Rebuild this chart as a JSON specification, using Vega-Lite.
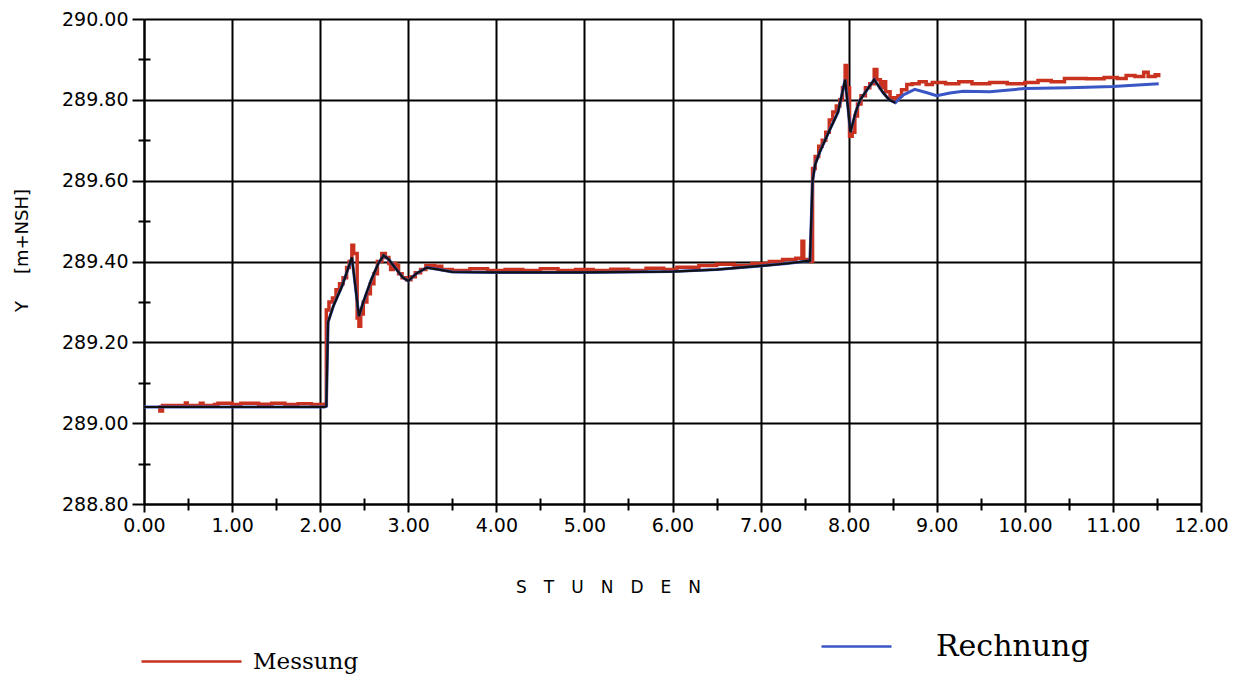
{
  "$schema": "https://vega.github.io/schema/vega-lite/v6.json",
  "width": 1057,
  "height": 485,
  "autosize": {"type": "none"},
  "padding": {"left": 144, "top": 19, "right": 36, "bottom": 180},
  "background": "white",
  "config": {
    "view": {"stroke": null},
    "axis": {"labelFont": "DejaVu Sans", "titleFont": "DejaVu Sans", "labelColor": "black", "titleColor": "black", "titleFontWeight": "normal"}
  },
  "datasets": {
    "rechnung": [
      {"t": 0.00, "y": 289.040}, {"t": 2.05, "y": 289.040}, {"t": 2.07, "y": 289.042},
      {"t": 2.09, "y": 289.250}, {"t": 2.15, "y": 289.290}, {"t": 2.25, "y": 289.340},
      {"t": 2.36, "y": 289.410}, {"t": 2.44, "y": 289.265}, {"t": 2.49, "y": 289.300},
      {"t": 2.58, "y": 289.355}, {"t": 2.66, "y": 289.395}, {"t": 2.72, "y": 289.415},
      {"t": 2.78, "y": 289.405}, {"t": 2.85, "y": 289.385}, {"t": 2.94, "y": 289.360},
      {"t": 3.00, "y": 289.352}, {"t": 3.09, "y": 289.370}, {"t": 3.21, "y": 289.385},
      {"t": 3.35, "y": 289.380}, {"t": 3.50, "y": 289.374}, {"t": 4.00, "y": 289.373},
      {"t": 5.00, "y": 289.373}, {"t": 6.00, "y": 289.375}, {"t": 6.50, "y": 289.380},
      {"t": 7.00, "y": 289.389}, {"t": 7.30, "y": 289.395}, {"t": 7.56, "y": 289.402},
      {"t": 7.59, "y": 289.600}, {"t": 7.62, "y": 289.640}, {"t": 7.67, "y": 289.670},
      {"t": 7.79, "y": 289.728}, {"t": 7.88, "y": 289.770}, {"t": 7.96, "y": 289.850},
      {"t": 8.02, "y": 289.720}, {"t": 8.08, "y": 289.770}, {"t": 8.13, "y": 289.800},
      {"t": 8.20, "y": 289.822}, {"t": 8.29, "y": 289.850}, {"t": 8.39, "y": 289.818},
      {"t": 8.46, "y": 289.800}, {"t": 8.53, "y": 289.793}, {"t": 8.62, "y": 289.812},
      {"t": 8.75, "y": 289.826}, {"t": 8.88, "y": 289.818}, {"t": 9.00, "y": 289.810},
      {"t": 9.15, "y": 289.817}, {"t": 9.30, "y": 289.821}, {"t": 9.60, "y": 289.820},
      {"t": 10.00, "y": 289.828}, {"t": 10.50, "y": 289.830}, {"t": 11.00, "y": 289.833},
      {"t": 11.52, "y": 289.840}
    ],
    "messung": [
      {"t": 0.16, "y": 289.040}, {"t": 0.18, "y": 289.030}, {"t": 0.21, "y": 289.044},
      {"t": 0.45, "y": 289.044}, {"t": 0.47, "y": 289.050}, {"t": 0.49, "y": 289.044},
      {"t": 0.62, "y": 289.044}, {"t": 0.64, "y": 289.049}, {"t": 0.67, "y": 289.044},
      {"t": 0.80, "y": 289.046}, {"t": 0.84, "y": 289.049}, {"t": 1.00, "y": 289.046},
      {"t": 1.10, "y": 289.049}, {"t": 1.30, "y": 289.047}, {"t": 1.45, "y": 289.049},
      {"t": 1.60, "y": 289.046}, {"t": 1.75, "y": 289.048}, {"t": 1.90, "y": 289.046},
      {"t": 2.05, "y": 289.047}, {"t": 2.07, "y": 289.280}, {"t": 2.10, "y": 289.300},
      {"t": 2.14, "y": 289.310}, {"t": 2.18, "y": 289.330}, {"t": 2.22, "y": 289.345},
      {"t": 2.26, "y": 289.360}, {"t": 2.30, "y": 289.385}, {"t": 2.33, "y": 289.400},
      {"t": 2.36, "y": 289.440}, {"t": 2.38, "y": 289.420}, {"t": 2.42, "y": 289.260},
      {"t": 2.44, "y": 289.240}, {"t": 2.46, "y": 289.270}, {"t": 2.49, "y": 289.300},
      {"t": 2.53, "y": 289.320}, {"t": 2.57, "y": 289.345}, {"t": 2.61, "y": 289.370},
      {"t": 2.65, "y": 289.400}, {"t": 2.70, "y": 289.420}, {"t": 2.74, "y": 289.410},
      {"t": 2.78, "y": 289.395}, {"t": 2.80, "y": 289.380}, {"t": 2.83, "y": 289.395},
      {"t": 2.86, "y": 289.390}, {"t": 2.89, "y": 289.370}, {"t": 2.93, "y": 289.360},
      {"t": 2.98, "y": 289.355}, {"t": 3.03, "y": 289.362}, {"t": 3.08, "y": 289.372},
      {"t": 3.14, "y": 289.380}, {"t": 3.20, "y": 289.390}, {"t": 3.30, "y": 289.388},
      {"t": 3.38, "y": 289.380}, {"t": 3.50, "y": 289.378}, {"t": 3.70, "y": 289.382},
      {"t": 3.90, "y": 289.378}, {"t": 4.10, "y": 289.380}, {"t": 4.30, "y": 289.378},
      {"t": 4.50, "y": 289.382}, {"t": 4.70, "y": 289.378}, {"t": 4.90, "y": 289.380},
      {"t": 5.10, "y": 289.378}, {"t": 5.30, "y": 289.381}, {"t": 5.50, "y": 289.378},
      {"t": 5.70, "y": 289.383}, {"t": 5.90, "y": 289.380}, {"t": 6.05, "y": 289.386},
      {"t": 6.30, "y": 289.390}, {"t": 6.50, "y": 289.393}, {"t": 6.70, "y": 289.390},
      {"t": 6.90, "y": 289.395}, {"t": 7.10, "y": 289.400}, {"t": 7.25, "y": 289.405},
      {"t": 7.40, "y": 289.408}, {"t": 7.47, "y": 289.450}, {"t": 7.49, "y": 289.405},
      {"t": 7.57, "y": 289.400}, {"t": 7.59, "y": 289.630}, {"t": 7.62, "y": 289.660},
      {"t": 7.66, "y": 289.685}, {"t": 7.70, "y": 289.700}, {"t": 7.74, "y": 289.720},
      {"t": 7.78, "y": 289.750}, {"t": 7.82, "y": 289.770}, {"t": 7.86, "y": 289.785},
      {"t": 7.90, "y": 289.800}, {"t": 7.93, "y": 289.830}, {"t": 7.96, "y": 289.885},
      {"t": 7.98, "y": 289.830}, {"t": 8.01, "y": 289.710}, {"t": 8.04, "y": 289.720},
      {"t": 8.07, "y": 289.760}, {"t": 8.10, "y": 289.790}, {"t": 8.14, "y": 289.810},
      {"t": 8.19, "y": 289.830}, {"t": 8.24, "y": 289.840}, {"t": 8.29, "y": 289.875},
      {"t": 8.32, "y": 289.850}, {"t": 8.36, "y": 289.830}, {"t": 8.39, "y": 289.845},
      {"t": 8.42, "y": 289.820}, {"t": 8.47, "y": 289.805}, {"t": 8.52, "y": 289.800},
      {"t": 8.56, "y": 289.810}, {"t": 8.60, "y": 289.825}, {"t": 8.66, "y": 289.838},
      {"t": 8.72, "y": 289.840}, {"t": 8.80, "y": 289.845}, {"t": 8.88, "y": 289.838},
      {"t": 8.95, "y": 289.843}, {"t": 9.10, "y": 289.840}, {"t": 9.25, "y": 289.845},
      {"t": 9.40, "y": 289.840}, {"t": 9.60, "y": 289.843}, {"t": 9.80, "y": 289.840},
      {"t": 10.00, "y": 289.843}, {"t": 10.15, "y": 289.848}, {"t": 10.30, "y": 289.845},
      {"t": 10.45, "y": 289.853}, {"t": 10.70, "y": 289.852}, {"t": 10.90, "y": 289.855},
      {"t": 11.05, "y": 289.853}, {"t": 11.15, "y": 289.860}, {"t": 11.25, "y": 289.858},
      {"t": 11.35, "y": 289.868}, {"t": 11.40, "y": 289.858}, {"t": 11.48, "y": 289.862},
      {"t": 11.52, "y": 289.856}
    ]
  },
  "resolve": {"axis": {"x": "independent", "y": "independent"}, "scale": {"color": "independent"}},
  "layer": [
    {
      "data": {"name": "messung"},
      "mark": {"type": "line", "strokeWidth": 3.5, "interpolate": "step-after", "clip": true},
      "encoding": {
        "x": {"field": "t", "type": "quantitative", "scale": {"domain": [0, 12], "nice": false, "zero": false},
          "axis": {"orient": "bottom", "values": [0,1,2,3,4,5,6,7,8,9,10,11,12], "format": ".2f", "labelFontSize": 19, "labelPadding": 4, "labelFlush": false, "labelOverlap": false, "tickSize": 8, "tickWidth": 2, "tickColor": "black",
            "domainColor": "black", "domainWidth": 2, "grid": true, "gridColor": "black", "gridWidth": 2, "gridOpacity": 1,
            "title": "S\u2003T\u2003U\u2003N\u2003D\u2003E\u2003N", "titleFontSize": 17, "titleX": 464, "titleY": 83, "titleBaseline": "middle", "titleAlign": "center"}},
        "y": {"field": "y", "type": "quantitative", "scale": {"domain": [288.8, 290.0], "nice": false, "zero": false},
          "axis": {"orient": "left", "values": [288.8, 289.0, 289.2, 289.4, 289.6, 289.8, 290.0], "format": ".2f", "labelFontSize": 19, "labelPadding": 4, "labelFlush": false, "labelOverlap": false, "tickSize": 12, "tickWidth": 2, "tickColor": "black",
            "domainColor": "black", "domainWidth": 2, "grid": true, "gridColor": "black", "gridWidth": 2, "gridOpacity": 1,
            "title": "Y\u2003\u2002[m+NSH]", "titleFontSize": 18, "titleAngle": -90, "titleX": -122, "titleY": 231, "titleBaseline": "middle", "titleAlign": "center"}},
        "color": {"datum": "Messung", "type": "nominal", "scale": {"domain": ["Messung"], "range": ["#c8321e"]},
          "legend": {"orient": "none", "legendX": -4, "legendY": 591, "title": null, "symbolType": "stroke", "symbolSize": 10000, "symbolStrokeWidth": 2.5, "labelFont": "DejaVu Serif", "labelFontSize": 23, "labelOffset": 10, "labelColor": "black", "padding": 0}}
      }
    },
    {
      "data": {"name": "rechnung"},
      "mark": {"type": "line", "strokeWidth": 3, "clip": true},
      "encoding": {
        "x": {"field": "t", "type": "quantitative", "scale": {"domain": [0, 12], "nice": false, "zero": false}, "axis": null},
        "y": {"field": "y", "type": "quantitative", "scale": {"domain": [288.8, 290.0], "nice": false, "zero": false}, "axis": null},
        "color": {"datum": "Rechnung", "type": "nominal", "scale": {"domain": ["Rechnung"], "range": ["#3a56c4"]},
          "legend": {"orient": "none", "legendX": 676, "legendY": 591, "title": null, "symbolType": "stroke", "symbolSize": 4900, "symbolStrokeWidth": 2.5, "labelFont": "DejaVu Serif", "labelFontSize": 30, "labelOffset": 43, "labelColor": "black", "padding": 0}}
      }
    },
    {
      "data": {"name": "rechnung"},
      "transform": [{"filter": "datum.t <= 8.6"}],
      "mark": {"type": "line", "strokeWidth": 2.2, "color": "#111111", "clip": true},
      "encoding": {
        "x": {"field": "t", "type": "quantitative", "scale": {"domain": [0, 12], "nice": false, "zero": false},
          "axis": {"orient": "bottom", "values": [0.5,1.5,2.5,3.5,4.5,5.5,6.5,7.5,8.5,9.5,10.5,11.5], "labels": false, "domain": false, "grid": false, "tickSize": 12, "offset": -6, "tickWidth": 2, "tickColor": "black", "title": null}},
        "y": {"field": "y", "type": "quantitative", "scale": {"domain": [288.8, 290.0], "nice": false, "zero": false},
          "axis": {"orient": "left", "values": [288.9, 289.1, 289.3, 289.5, 289.7, 289.9], "labels": false, "domain": false, "grid": false, "tickSize": 12, "offset": -6, "tickWidth": 2, "tickColor": "black", "title": null}}
      }
    }
  ]
}
